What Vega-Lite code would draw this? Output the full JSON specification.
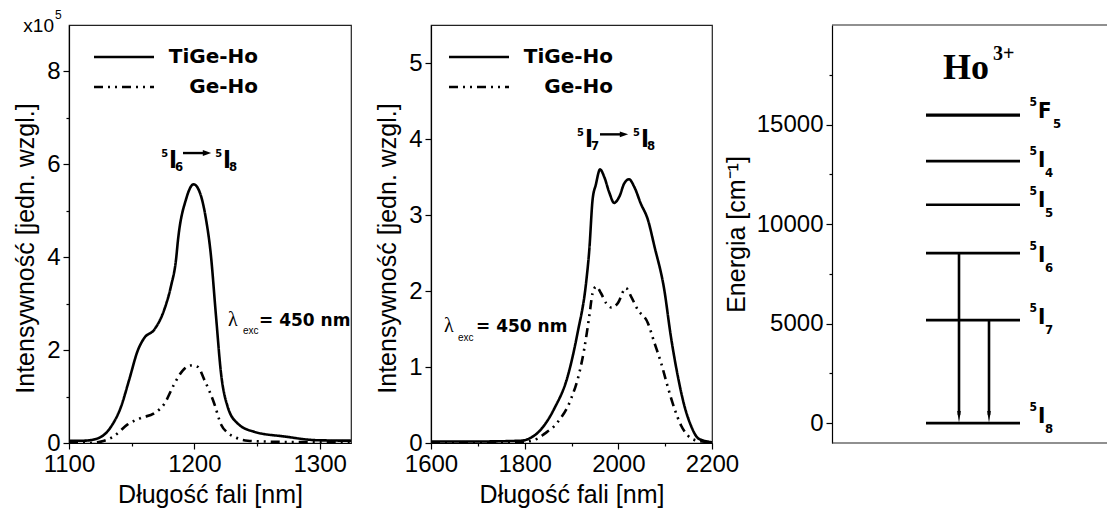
{
"$schema":"https://vega.github.io/schema/vega-lite/v6.json",
"background":"white",
"padding":{"left":13,"top":8,"right":0,"bottom":0},
"config":{
 "view":{"stroke":"#222","strokeWidth":1.2},
 "font":"Liberation Sans",
 "axis":{"grid":false,"labelFlush":false,"domainColor":"#000","domainWidth":1.2,"tickColor":"#000","tickWidth":1.2,"labelColor":"#000","titleColor":"#000","labelFont":"Liberation Sans","labelFontSize":24,"titleFont":"Liberation Sans","titleFontSize":25,"titleFontWeight":"normal","labelPadding":3}
},
"datasets":{
 "s1":[
  {"s":"TiGe-Ho","wl":1100,"I":0.05},{"s":"TiGe-Ho","wl":1112,"I":0.05},{"s":"TiGe-Ho","wl":1123,"I":0.1},{"s":"TiGe-Ho","wl":1133.5,"I":0.35},{"s":"TiGe-Ho","wl":1141.5,"I":0.78},{"s":"TiGe-Ho","wl":1148,"I":1.36},{"s":"TiGe-Ho","wl":1155,"I":2.0},{"s":"TiGe-Ho","wl":1160,"I":2.26},{"s":"TiGe-Ho","wl":1168,"I":2.44},{"s":"TiGe-Ho","wl":1176,"I":2.87},{"s":"TiGe-Ho","wl":1181.4,"I":3.38},{"s":"TiGe-Ho","wl":1185.4,"I":3.95},{"s":"TiGe-Ho","wl":1187,"I":4.38},{"s":"TiGe-Ho","wl":1193.4,"I":5.25},{"s":"TiGe-Ho","wl":1199.5,"I":5.57},{"s":"TiGe-Ho","wl":1205.3,"I":5.32},{"s":"TiGe-Ho","wl":1209.3,"I":4.82},{"s":"TiGe-Ho","wl":1213,"I":4.1},{"s":"TiGe-Ho","wl":1217.3,"I":2.73},{"s":"TiGe-Ho","wl":1221.3,"I":1.5},{"s":"TiGe-Ho","wl":1226.6,"I":0.78},{"s":"TiGe-Ho","wl":1234.6,"I":0.42},{"s":"TiGe-Ho","wl":1248,"I":0.24},{"s":"TiGe-Ho","wl":1272,"I":0.14},{"s":"TiGe-Ho","wl":1298,"I":0.06},{"s":"TiGe-Ho","wl":1325,"I":0.05},
  {"s":"Ge-Ho","wl":1100,"I":0.0},{"s":"Ge-Ho","wl":1115,"I":0.0},{"s":"Ge-Ho","wl":1125.5,"I":0.03},{"s":"Ge-Ho","wl":1136,"I":0.15},{"s":"Ge-Ho","wl":1146.8,"I":0.4},{"s":"Ge-Ho","wl":1157.4,"I":0.54},{"s":"Ge-Ho","wl":1168,"I":0.64},{"s":"Ge-Ho","wl":1176,"I":0.84},{"s":"Ge-Ho","wl":1184,"I":1.27},{"s":"Ge-Ho","wl":1190.7,"I":1.56},{"s":"Ge-Ho","wl":1197.3,"I":1.67},{"s":"Ge-Ho","wl":1202.7,"I":1.64},{"s":"Ge-Ho","wl":1208,"I":1.36},{"s":"Ge-Ho","wl":1216,"I":0.84},{"s":"Ge-Ho","wl":1221.3,"I":0.4},{"s":"Ge-Ho","wl":1226.6,"I":0.22},{"s":"Ge-Ho","wl":1232,"I":0.13},{"s":"Ge-Ho","wl":1242.6,"I":0.05},{"s":"Ge-Ho","wl":1258.5,"I":0.03},{"s":"Ge-Ho","wl":1285,"I":0.02},{"s":"Ge-Ho","wl":1325,"I":0.02}
 ],
 "s2":[
  {"s":"TiGe-Ho","wl":1600,"I":0.02},{"s":"TiGe-Ho","wl":1700,"I":0.02},{"s":"TiGe-Ho","wl":1792,"I":0.03},{"s":"TiGe-Ho","wl":1813.5,"I":0.07},{"s":"TiGe-Ho","wl":1835,"I":0.18},{"s":"TiGe-Ho","wl":1863,"I":0.45},{"s":"TiGe-Ho","wl":1892,"I":0.88},{"s":"TiGe-Ho","wl":1913,"I":1.45},{"s":"TiGe-Ho","wl":1931,"I":2.1},{"s":"TiGe-Ho","wl":1938,"I":2.54},{"s":"TiGe-Ho","wl":1945,"I":3.2},{"s":"TiGe-Ho","wl":1952,"I":3.4},{"s":"TiGe-Ho","wl":1961,"I":3.6},{"s":"TiGe-Ho","wl":1970,"I":3.5},{"s":"TiGe-Ho","wl":1981,"I":3.29},{"s":"TiGe-Ho","wl":1991,"I":3.16},{"s":"TiGe-Ho","wl":2002,"I":3.24},{"s":"TiGe-Ho","wl":2013,"I":3.42},{"s":"TiGe-Ho","wl":2023,"I":3.47},{"s":"TiGe-Ho","wl":2034,"I":3.37},{"s":"TiGe-Ho","wl":2048,"I":3.15},{"s":"TiGe-Ho","wl":2063,"I":2.94},{"s":"TiGe-Ho","wl":2077,"I":2.59},{"s":"TiGe-Ho","wl":2098,"I":2.02},{"s":"TiGe-Ho","wl":2112,"I":1.41},{"s":"TiGe-Ho","wl":2127,"I":0.88},{"s":"TiGe-Ho","wl":2141,"I":0.49},{"s":"TiGe-Ho","wl":2155,"I":0.23},{"s":"TiGe-Ho","wl":2169,"I":0.07},{"s":"TiGe-Ho","wl":2183,"I":0.03},{"s":"TiGe-Ho","wl":2200,"I":0.01},
  {"s":"Ge-Ho","wl":1600,"I":0.0},{"s":"Ge-Ho","wl":1792,"I":0.01},{"s":"Ge-Ho","wl":1828,"I":0.06},{"s":"Ge-Ho","wl":1842,"I":0.12},{"s":"Ge-Ho","wl":1870,"I":0.27},{"s":"Ge-Ho","wl":1899,"I":0.58},{"s":"Ge-Ho","wl":1917,"I":0.93},{"s":"Ge-Ho","wl":1927,"I":1.23},{"s":"Ge-Ho","wl":1938,"I":1.67},{"s":"Ge-Ho","wl":1945,"I":1.97},{"s":"Ge-Ho","wl":1953,"I":2.06},{"s":"Ge-Ho","wl":1963,"I":1.97},{"s":"Ge-Ho","wl":1974,"I":1.84},{"s":"Ge-Ho","wl":1986,"I":1.78},{"s":"Ge-Ho","wl":1999,"I":1.84},{"s":"Ge-Ho","wl":2016,"I":2.04},{"s":"Ge-Ho","wl":2027,"I":1.93},{"s":"Ge-Ho","wl":2041,"I":1.76},{"s":"Ge-Ho","wl":2063,"I":1.58},{"s":"Ge-Ho","wl":2077,"I":1.32},{"s":"Ge-Ho","wl":2091,"I":1.06},{"s":"Ge-Ho","wl":2105,"I":0.75},{"s":"Ge-Ho","wl":2120,"I":0.45},{"s":"Ge-Ho","wl":2134,"I":0.23},{"s":"Ge-Ho","wl":2148,"I":0.1},{"s":"Ge-Ho","wl":2169,"I":0.03},{"s":"Ge-Ho","wl":2200,"I":0.01}
 ],
 "levels":[
  {"term":"5F5","L":"F","J":"5","E":15474,"labelE":15323},
  {"term":"5I4","L":"I","J":"4","E":13163,"labelE":12861},
  {"term":"5I5","L":"I","J":"5","E":10967,"labelE":10852},
  {"term":"5I6","L":"I","J":"6","E":8541,"labelE":8089},
  {"term":"5I7","L":"I","J":"7","E":5175,"labelE":4974},
  {"term":"5I8","L":"I","J":"8","E":0,"labelE":0}
 ],
 "arrows":[
  {"x":127,"from":8541,"to":0},
  {"x":157,"from":5175,"to":0}
 ]
},
"hconcat":[
   {
    "width":282,"height":418,
    "layer":[
     {
      "data":{"name":"s1"},
      "mark":{"type":"line","color":"#000","strokeWidth":2.6,"interpolate":"monotone","clip":true},
      "encoding":{
       "x":{"field":"wl","type":"quantitative","scale":{"domain":[1100,1325],"nice":false,"zero":false},
            "axis":{"values":[1100,1150,1200,1250,1300],"format":"d","labelExpr":"datum.value % 100 === 0 ? datum.label : ''","tickSize":{"condition":{"test":"datum.value % 100 === 0","value":6},"value":3},"title":"Długość fali [nm]","titlePadding":6}},
       "y":{"field":"I","type":"quantitative","scale":{"domain":[0,9],"nice":false,"zero":false},
            "axis":{"values":[0,1,2,3,4,5,6,7,8],"format":"d","labelExpr":"datum.value % 2 === 0 ? datum.label : ''","tickSize":{"condition":{"test":"datum.value % 2 === 0","value":6},"value":3},"title":"Intensywność [jedn. wzgl.]","titlePadding":8,"titleY":223}},
       "strokeDash":{"field":"s","type":"nominal","scale":{"domain":["TiGe-Ho","Ge-Ho"],"range":[[1,0],[9,5,2,5,2,5]]},
            "legend":{"orient":"none","legendX":45,"legendY":22,"title":null,"symbolType":"M-5,0L5,0","symbolSize":144,"symbolStrokeWidth":2.6,"symbolStrokeColor":"#000","symbolFillColor":"transparent","labelFont":"DejaVu Sans","labelFontWeight":"bold","labelFontSize":20,"labelColor":"#000","labelAlign":"right","labelOffset":124,"rowPadding":10}}
      }
     },
     {
      "data":{"values":[{"t":"x10"}]},
      "mark":{"type":"text","align":"right","baseline":"alphabetic","dx":-15,"dy":7,"fontSize":19,"font":"Liberation Sans","color":"#000"},
      "encoding":{"x":{"datum":1100},"y":{"datum":9},"text":{"field":"t"}}
     },
     {
      "data":{"values":[{"t":"5"}]},
      "mark":{"type":"text","align":"left","baseline":"alphabetic","dx":-14,"dy":-6,"fontSize":12,"font":"Liberation Sans","color":"#000"},
      "encoding":{"x":{"datum":1100},"y":{"datum":9},"text":{"field":"t"}}
     },
     {
      "data":{"values":[{"x":1179.8,"y":5.92,"a":"6","b":"8"}]},
      "layer":[
       {"mark":{"type":"text","align":"right","baseline":"alphabetic","dx":-1,"dy":-11,"fontSize":11,"fontWeight":"bold","font":"Liberation Sans Narrow, DejaVu Sans Condensed, sans-serif","color":"#000"},"encoding":{"x":{"field":"x","type":"quantitative"},"y":{"field":"y","type":"quantitative"},"text":{"value":"5"}}},
       {"mark":{"type":"text","align":"left","baseline":"alphabetic","fontSize":24,"fontWeight":"bold","font":"Liberation Sans Narrow, DejaVu Sans Condensed, sans-serif","color":"#000"},"encoding":{"x":{"field":"x","type":"quantitative"},"y":{"field":"y","type":"quantitative"},"text":{"value":"I"}}},
       {"mark":{"type":"text","align":"left","baseline":"alphabetic","dx":6,"dy":3,"fontSize":13,"fontWeight":"bold","font":"Liberation Sans Narrow, DejaVu Sans Condensed, sans-serif","color":"#000"},"encoding":{"x":{"field":"x","type":"quantitative"},"y":{"field":"y","type":"quantitative"},"text":{"field":"a"}}},
       {"mark":{"type":"rule","color":"#000","strokeWidth":2.4,"xOffset":14,"x2Offset":37,"yOffset":-15},"encoding":{"x":{"field":"x","type":"quantitative"},"x2":{"field":"x"},"y":{"field":"y","type":"quantitative"}}},
       {"mark":{"type":"point","shape":"M-1,-0.7L1,0L-1,0.7Z","size":70,"filled":true,"color":"#000","opacity":1,"xOffset":38,"yOffset":-15},"encoding":{"x":{"field":"x","type":"quantitative"},"y":{"field":"y","type":"quantitative"}}},
       {"mark":{"type":"text","align":"right","baseline":"alphabetic","dx":53,"dy":-11,"fontSize":11,"fontWeight":"bold","font":"Liberation Sans Narrow, DejaVu Sans Condensed, sans-serif","color":"#000"},"encoding":{"x":{"field":"x","type":"quantitative"},"y":{"field":"y","type":"quantitative"},"text":{"value":"5"}}},
       {"mark":{"type":"text","align":"left","baseline":"alphabetic","dx":54,"fontSize":24,"fontWeight":"bold","font":"Liberation Sans Narrow, DejaVu Sans Condensed, sans-serif","color":"#000"},"encoding":{"x":{"field":"x","type":"quantitative"},"y":{"field":"y","type":"quantitative"},"text":{"value":"I"}}},
       {"mark":{"type":"text","align":"left","baseline":"alphabetic","dx":60,"dy":3,"fontSize":13,"fontWeight":"bold","font":"Liberation Sans Narrow, DejaVu Sans Condensed, sans-serif","color":"#000"},"encoding":{"x":{"field":"x","type":"quantitative"},"y":{"field":"y","type":"quantitative"},"text":{"field":"b"}}}
      ]
     },
     {
      "data":{"values":[{"x":1226.9,"y":2.52}]},
      "layer":[
       {"mark":{"type":"text","align":"left","baseline":"alphabetic","fontSize":20,"font":"Liberation Serif","color":"#000"},"encoding":{"x":{"field":"x","type":"quantitative"},"y":{"field":"y","type":"quantitative"},"text":{"value":"λ"}}},
       {"mark":{"type":"text","align":"left","baseline":"alphabetic","dx":15,"dy":8,"fontSize":10,"font":"Liberation Sans","color":"#000"},"encoding":{"x":{"field":"x","type":"quantitative"},"y":{"field":"y","type":"quantitative"},"text":{"value":"exc"}}},
       {"mark":{"type":"text","align":"left","baseline":"alphabetic","dx":31,"fontSize":17,"fontWeight":"bold","font":"DejaVu Sans","color":"#000"},"encoding":{"x":{"field":"x","type":"quantitative"},"y":{"field":"y","type":"quantitative"},"text":{"value":"= 450 nm"}}}
      ]
     }
    ]
   },
   {
    "width":281,"height":418,
    "layer":[
     {
      "data":{"name":"s2"},
      "mark":{"type":"line","color":"#000","strokeWidth":2.6,"interpolate":"monotone","clip":true},
      "encoding":{
       "x":{"field":"wl","type":"quantitative","scale":{"domain":[1600,2200],"nice":false,"zero":false},
            "axis":{"values":[1600,1700,1800,1900,2000,2100,2200],"format":"d","labelExpr":"datum.value % 200 === 0 ? datum.label : ''","tickSize":{"condition":{"test":"datum.value % 200 === 0","value":6},"value":3},"title":"Długość fali [nm]","titlePadding":6}},
       "y":{"field":"I","type":"quantitative","scale":{"domain":[0,5.5],"nice":false,"zero":false},
            "axis":{"values":[0,0.5,1,1.5,2,2.5,3,3.5,4,4.5,5],"format":"d","labelExpr":"datum.value % 1 === 0 ? datum.label : ''","tickSize":{"condition":{"test":"datum.value % 1 === 0","value":6},"value":3},"title":"Intensywność [jedn. wzgl.]","titlePadding":8,"titleY":223}},
       "strokeDash":{"field":"s","type":"nominal","scale":{"domain":["TiGe-Ho","Ge-Ho"],"range":[[1,0],[9,5,2,5,2,5]]},
            "legend":{"orient":"none","legendX":38,"legendY":22,"title":null,"symbolType":"M-5,0L5,0","symbolSize":144,"symbolStrokeWidth":2.6,"symbolStrokeColor":"#000","symbolFillColor":"transparent","labelFont":"DejaVu Sans","labelFontWeight":"bold","labelFontSize":20,"labelColor":"#000","labelAlign":"right","labelOffset":124,"rowPadding":10}}
      }
     },
     {
      "data":{"values":[{"x":1928.8,"y":3.89,"a":"7","b":"8"}]},
      "layer":[
       {"mark":{"type":"text","align":"right","baseline":"alphabetic","dx":-1,"dy":-11,"fontSize":11,"fontWeight":"bold","font":"Liberation Sans Narrow, DejaVu Sans Condensed, sans-serif","color":"#000"},"encoding":{"x":{"field":"x","type":"quantitative"},"y":{"field":"y","type":"quantitative"},"text":{"value":"5"}}},
       {"mark":{"type":"text","align":"left","baseline":"alphabetic","fontSize":24,"fontWeight":"bold","font":"Liberation Sans Narrow, DejaVu Sans Condensed, sans-serif","color":"#000"},"encoding":{"x":{"field":"x","type":"quantitative"},"y":{"field":"y","type":"quantitative"},"text":{"value":"I"}}},
       {"mark":{"type":"text","align":"left","baseline":"alphabetic","dx":6,"dy":3,"fontSize":13,"fontWeight":"bold","font":"Liberation Sans Narrow, DejaVu Sans Condensed, sans-serif","color":"#000"},"encoding":{"x":{"field":"x","type":"quantitative"},"y":{"field":"y","type":"quantitative"},"text":{"field":"a"}}},
       {"mark":{"type":"rule","color":"#000","strokeWidth":2.4,"xOffset":15,"x2Offset":38,"yOffset":-13},"encoding":{"x":{"field":"x","type":"quantitative"},"x2":{"field":"x"},"y":{"field":"y","type":"quantitative"}}},
       {"mark":{"type":"point","shape":"M-1,-0.7L1,0L-1,0.7Z","size":70,"filled":true,"color":"#000","opacity":1,"xOffset":39,"yOffset":-13},"encoding":{"x":{"field":"x","type":"quantitative"},"y":{"field":"y","type":"quantitative"}}},
       {"mark":{"type":"text","align":"right","baseline":"alphabetic","dx":55,"dy":-11,"fontSize":11,"fontWeight":"bold","font":"Liberation Sans Narrow, DejaVu Sans Condensed, sans-serif","color":"#000"},"encoding":{"x":{"field":"x","type":"quantitative"},"y":{"field":"y","type":"quantitative"},"text":{"value":"5"}}},
       {"mark":{"type":"text","align":"left","baseline":"alphabetic","dx":56,"fontSize":24,"fontWeight":"bold","font":"Liberation Sans Narrow, DejaVu Sans Condensed, sans-serif","color":"#000"},"encoding":{"x":{"field":"x","type":"quantitative"},"y":{"field":"y","type":"quantitative"},"text":{"value":"I"}}},
       {"mark":{"type":"text","align":"left","baseline":"alphabetic","dx":62,"dy":3,"fontSize":13,"fontWeight":"bold","font":"Liberation Sans Narrow, DejaVu Sans Condensed, sans-serif","color":"#000"},"encoding":{"x":{"field":"x","type":"quantitative"},"y":{"field":"y","type":"quantitative"},"text":{"field":"b"}}}
      ]
     },
     {
      "data":{"values":[{"x":1627.8,"y":1.46}]},
      "layer":[
       {"mark":{"type":"text","align":"left","baseline":"alphabetic","fontSize":20,"font":"Liberation Serif","color":"#000"},"encoding":{"x":{"field":"x","type":"quantitative"},"y":{"field":"y","type":"quantitative"},"text":{"value":"λ"}}},
       {"mark":{"type":"text","align":"left","baseline":"alphabetic","dx":14,"dy":9,"fontSize":10,"font":"Liberation Sans","color":"#000"},"encoding":{"x":{"field":"x","type":"quantitative"},"y":{"field":"y","type":"quantitative"},"text":{"value":"exc"}}},
       {"mark":{"type":"text","align":"left","baseline":"alphabetic","dx":32,"fontSize":17,"fontWeight":"bold","font":"DejaVu Sans","color":"#000"},"encoding":{"x":{"field":"x","type":"quantitative"},"y":{"field":"y","type":"quantitative"},"text":{"value":"= 450 nm"}}}
      ]
     }
    ]
   },
 {
  "width":316,"height":418,
  "view":{"stroke":"transparent","strokeWidth":0},
  "layer":[
   {
    "data":{"name":"levels"},
    "mark":{"type":"rule","color":"#000"},
    "encoding":{
     "x":{"datum":94,"type":"quantitative","scale":{"domain":[-40,276],"nice":false,"zero":false},"axis":null},
     "x2":{"datum":188},
     "y":{"field":"E","type":"quantitative","scale":{"domain":[-1000,20000],"nice":false,"zero":false},
          "axis":{"offset":-40,"values":[0,2500,5000,7500,10000,12500,15000,17500],"format":"d","labelExpr":"datum.value % 5000 === 0 ? datum.label : ''","tickSize":{"condition":{"test":"datum.value % 5000 === 0","value":6},"value":3},"title":"Energia [cm⁻¹]","titlePadding":7}},
     "strokeWidth":{"condition":{"test":"datum.L === 'F'","value":3.4},"value":2.6}
    }
   },
   {
    "data":{"values":[{"edge":"top","E":20000},{"edge":"bottom","E":-1000}]},
    "mark":{"type":"rule","color":"#222","strokeWidth":1.2},
    "encoding":{"x":{"datum":0},"x2":{"datum":276},"y":{"field":"E","type":"quantitative"}}
   },
   {
    "data":{"name":"arrows"},
    "mark":{"type":"rule","color":"#000","strokeWidth":2.6,"y2Offset":-8},
    "encoding":{"x":{"field":"x","type":"quantitative"},"y":{"field":"from","type":"quantitative"},"y2":{"field":"to"}}
   },
   {
    "data":{"name":"arrows"},
    "mark":{"type":"point","shape":"M-0.3,-1L0.3,-1L0,1Z","size":144,"filled":true,"color":"#000","opacity":1,"yOffset":-6},
    "encoding":{"x":{"field":"x","type":"quantitative"},"y":{"field":"to","type":"quantitative"}}
   },
   {
    "data":{"name":"levels"},
    "mark":{"type":"text","align":"right","baseline":"alphabetic","dx":-1,"dy":-12,"fontSize":12,"fontWeight":"bold","font":"Liberation Sans Narrow, DejaVu Sans Condensed, sans-serif","color":"#000"},
    "encoding":{"x":{"datum":206},"y":{"field":"labelE","type":"quantitative"},"text":{"value":"5"}}
   },
   {
    "data":{"name":"levels"},
    "mark":{"type":"text","align":"left","baseline":"alphabetic","fontSize":22,"fontWeight":"bold","font":"Liberation Sans Narrow, DejaVu Sans Condensed, sans-serif","color":"#000"},
    "encoding":{"x":{"datum":206},"y":{"field":"labelE","type":"quantitative"},"text":{"field":"L"}}
   },
   {
    "data":{"name":"levels"},
    "mark":{"type":"text","align":"left","baseline":"alphabetic","dx":{"expr":"datum.L === 'F' ? 15 : 7"},"dy":10,"fontSize":13,"fontWeight":"bold","font":"Liberation Sans Narrow, DejaVu Sans Condensed, sans-serif","color":"#000"},
    "encoding":{"x":{"datum":206},"y":{"field":"labelE","type":"quantitative"},"text":{"field":"J"}}
   },
   {
    "data":{"values":[{"ion":"Ho"}]},
    "layer":[
     {"mark":{"type":"text","align":"left","baseline":"alphabetic","fontSize":36,"fontWeight":"bold","font":"Liberation Serif","color":"#000"},"encoding":{"x":{"datum":111},"y":{"datum":17283},"text":{"field":"ion"}}},
     {"mark":{"type":"text","align":"left","baseline":"alphabetic","dx":50,"dy":-19,"fontSize":20,"fontWeight":"bold","font":"Liberation Serif","color":"#000"},"encoding":{"x":{"datum":111},"y":{"datum":17283},"text":{"value":"3+"}}}
    ]
   }
  ]
 }
],
"spacing":80,
"bounds":"flush",
"resolve":{"scale":{"strokeDash":"independent"},"legend":{"strokeDash":"independent"}}
}
